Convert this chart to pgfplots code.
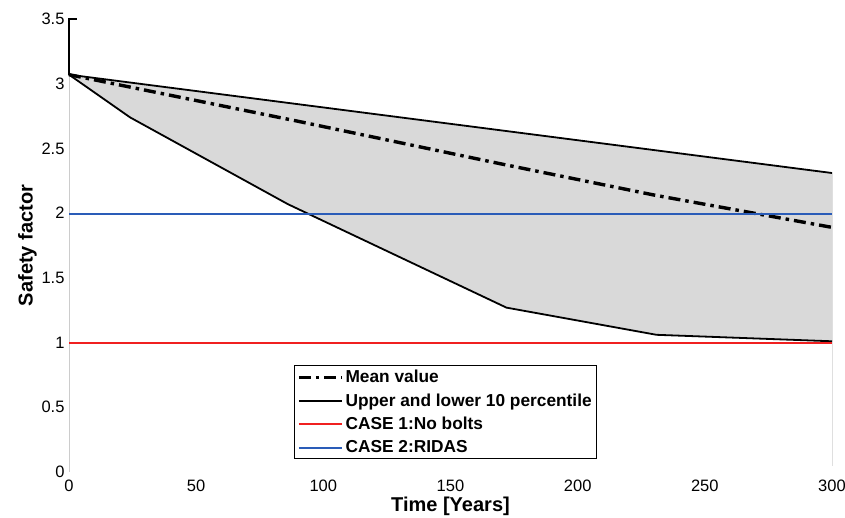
\documentclass[border=0pt]{standalone}
\usepackage{fontspec}
\setmainfont{Liberation Sans}
\usepackage{pgfplots}
\pgfplotsset{compat=1.18}
\definecolor{fillgray}{HTML}{D9D9D9}
\definecolor{casered}{HTML}{F02020}
\definecolor{caseblue}{HTML}{2A5CB8}
\begin{document}
\begin{tikzpicture}
\begin{axis}[
  name=ax,
  scale only axis,
  width=763pt, height=453pt,
  xmin=0, xmax=300, ymin=0, ymax=3.5,
  xtick={0,50,100,150,200,250,300},
  ytick={0,0.5,1,1.5,2,2.5,3,3.5},
  yticklabels={0,0.5,1,1.5,2,2.5,3,3.5},
  xticklabels={0,50,100,150,200,250,300},
  /pgf/number format/assume math mode=true,
  major tick length=0pt,
  tick style={draw=none},
  axis line style={draw=none},
  tick label style={font=\fontsize{16.5}{19}\selectfont},
  xticklabel style={yshift=-4pt},
  yticklabel style={xshift=-1pt},
  xlabel={\textbf{Time [Years]}},
  ylabel={\textbf{Safety factor}},
  label style={font=\fontsize{20}{23}\selectfont},
  xlabel style={yshift=1.5pt},
  ylabel style={yshift=-2pt},
  legend style={at={(0.295,0.236)}, anchor=north west, draw=black, line width=1.2pt,
    font=\bfseries\fontsize{17.3}{20}\selectfont, row sep=5.5pt, inner sep=2.5pt,
    cells={anchor=west}},
  legend cell align=left,
  legend image post style={sharp plot},
  legend image code/.code={\draw[#1] (0cm,0cm) -- (43pt,0cm);},
  clip=false,
]
% fill between upper and lower
\addplot[fill=fillgray, draw=none, forget plot] coordinates {
  (0,3.07) (300,2.31) (300,1.01) (231,1.06) (172,1.27) (86,2.07) (24,2.74) (0,3.07)} -- cycle;
% axis lines
\draw[gray!40, line width=0.8pt] (axis cs:0,0) -- (axis cs:0,3.07);
\draw[gray!25, line width=0.6pt] (axis cs:300,0.05) -- (axis cs:300,2.31);
\draw[black, line width=1.2pt] (axis cs:0,3.07) -- (axis cs:0,3.5) -- ++(8pt,0pt);
% series
\addplot[black, line width=3.4pt, dash pattern=on 12pt off 5pt on 3.5pt off 5pt]
  coordinates {(0,3.07) (90,2.71) (170,2.38) (230,2.14) (300,1.89)};
\addlegendentry{Mean value}
\addplot[black, line width=1.8pt] coordinates {(0,3.07) (300,2.31)};
\addlegendentry{Upper and lower 10 percentile}
\addplot[black, line width=1.8pt, forget plot] coordinates {
  (0,3.07) (24,2.74) (86,2.07) (172,1.27) (231,1.06) (300,1.01)};
\addplot[casered, line width=2pt] coordinates {(0,1.0) (300,1.0)};
\addlegendentry{CASE 1:No bolts}
\addplot[caseblue, line width=2pt] coordinates {(0,1.99) (300,1.99)};
\addlegendentry{CASE 2:RIDAS}
\end{axis}
\pgfresetboundingbox
\path[use as bounding box] ([shift={(-69pt,-45pt)}]ax.south west) rectangle ([shift={(13pt,19pt)}]ax.north east);
\end{tikzpicture}
\end{document}
